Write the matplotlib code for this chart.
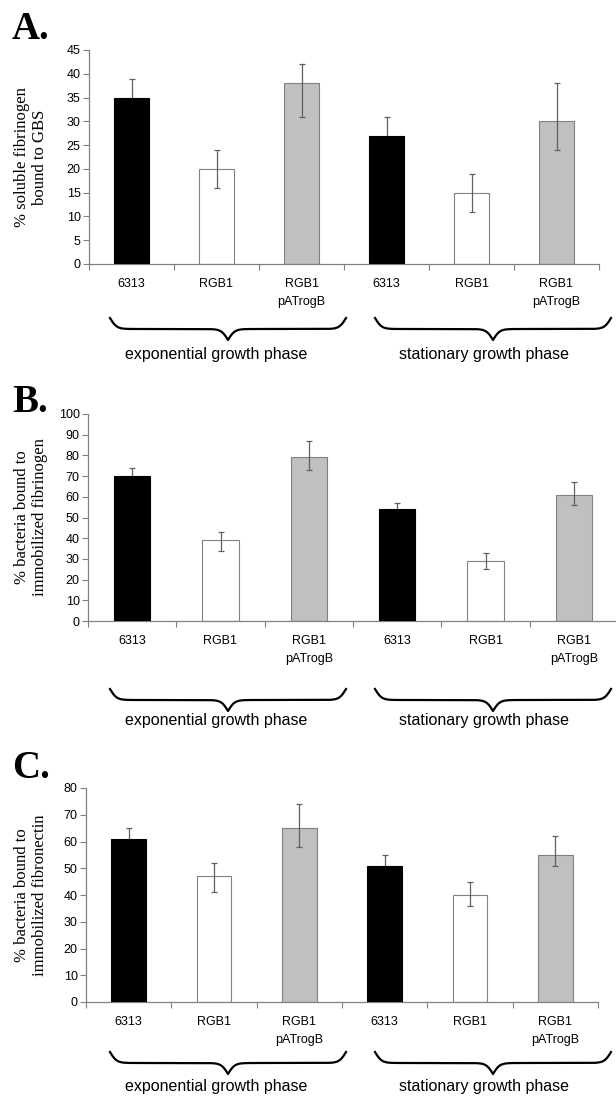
import numpy as np
import matplotlib
matplotlib.use('Agg')
import matplotlib.pyplot as plt

# strains / groups
labels = ['6313', 'RGB1', 'RGB1\npATrogB', '6313', 'RGB1', 'RGB1\npATrogB']
groups = ['exponential growth phase', 'stationary growth phase']
bar_colors = ['black', 'white', '#c0c0c0', 'black', 'white', '#c0c0c0']

# A: soluble fibrinogen
A_vals = [35, 20, 38, 27, 15, 30]
A_lo = [4, 4, 7, 4, 4, 6]
A_hi = [4, 4, 4, 4, 4, 8]

# B: immobilized fibrinogen
B_vals = [70, 39, 79, 54, 29, 61]
B_lo = [4, 5, 6, 3, 4, 5]
B_hi = [4, 4, 8, 3, 4, 6]

# C: immobilized fibronectin
C_vals = [61, 47, 65, 51, 40, 55]
C_lo = [4, 6, 7, 4, 4, 4]
C_hi = [4, 5, 9, 4, 5, 7]

W, H = 616, 1099
fig = plt.figure(figsize=(W / 100, H / 100), dpi=100)


def fx(px):
    return px / W


def fy(py):
    return 1 - py / H


def brace(x0, x1, ytop, depth, beta=0.3):
    # curly brace in figure pixels, tip pointing down
    xm = (x0 + x1) / 2
    xs = np.linspace(x0, xm, 300)
    half = 1 / (1 + np.exp(-beta * (xs - x0))) + 1 / (1 + np.exp(-beta * (xs - xm)))
    ys = ytop + (half - 0.5) * depth
    xx = np.concatenate([xs, (2 * xm - xs)[::-1]])
    yy = np.concatenate([ys, ys[::-1]])
    fig.add_artist(plt.Line2D(fx(xx), fy(yy), color='black', lw=1.6,
                              transform=fig.transFigure))


def panel(box, vals, lo, hi, ymax, ystep, ylabel, letter, letter_pos,
          brace_y, text_y):
    left, right, top, bottom = box
    ax = fig.add_axes([fx(left), fy(bottom), fx(right - left), (bottom - top) / H])
    x = np.arange(len(vals))
    bars = ax.bar(x, vals, width=0.41, color=bar_colors, zorder=1)
    for b, c in zip(bars, bar_colors):
        if c == 'black':
            b.set_edgecolor('black')
            b.set_zorder(3)
        else:
            b.set_edgecolor('#808080')
        b.set_linewidth(0.8)
    ax.errorbar(x, vals, yerr=[lo, hi], fmt='none', ecolor='#606060',
                elinewidth=0.9, capsize=2.5, capthick=0.9, zorder=2)

    ax.set_xlim(-0.5, len(vals) - 0.5)
    ax.set_ylim(0, ymax)
    ax.set_yticks(np.arange(0, ymax + 1, ystep))
    ax.set_xticks(np.arange(-0.5, len(vals), 1.0))
    ax.set_xticklabels([])
    ax.set_xticks(x, minor=True)
    ax.set_xticklabels(labels, minor=True, fontsize=9, family='Liberation Sans')
    for lbl in ax.get_xticklabels(minor=True):
        lbl.set_linespacing(1.65)
    ax.tick_params(axis='x', which='major', length=4, color='#808080', direction='out')
    ax.tick_params(axis='x', which='minor', length=0, pad=10)
    ax.tick_params(axis='y', length=4, color='#808080', pad=2)
    for lbl in ax.get_yticklabels():
        lbl.set_family('Liberation Sans')
        lbl.set_fontsize(9)
    for s in ['top', 'right']:
        ax.spines[s].set_visible(False)
    for s in ['left', 'bottom']:
        ax.spines[s].set_color('#808080')
        ax.spines[s].set_linewidth(0.9)

    fig.text(fx(31), fy((top + bottom) / 2), ylabel, rotation=90, ha='center',
             va='center', multialignment='center', family='Liberation Serif',
             fontsize=12, linespacing=1.15)
    fig.text(fx(letter_pos[0]), fy(letter_pos[1]), letter, ha='left', va='baseline',
             family='Liberation Serif', fontweight='bold', fontsize=28)

    brace(110, 346, brace_y, 22)
    brace(375, 611, brace_y, 22)
    fig.text(fx(216), fy(text_y), groups[0], ha='center', va='center',
             family='Liberation Sans', fontsize=11.5)
    fig.text(fx(484), fy(text_y), groups[1], ha='center', va='center',
             family='Liberation Sans', fontsize=11.5)
    return ax


panel((89, 599, 50, 264), A_vals, A_lo, A_hi, 45, 5,
      '% soluble fibrinogen\nbound to GBS', 'A.', (12, 39), 318, 355)
panel((88, 618, 414, 621), B_vals, B_lo, B_hi, 100, 10,
      '% bacteria bound to\nimmobilized fibrinogen', 'B.', (12, 412), 689, 720)
panel((86, 598, 788, 1002), C_vals, C_lo, C_hi, 80, 10,
      '% bacteria bound to\nimmobilized fibronectin', 'C.', (12, 778), 1052, 1087)

fig.savefig('out.png', dpi=100, facecolor='white')
